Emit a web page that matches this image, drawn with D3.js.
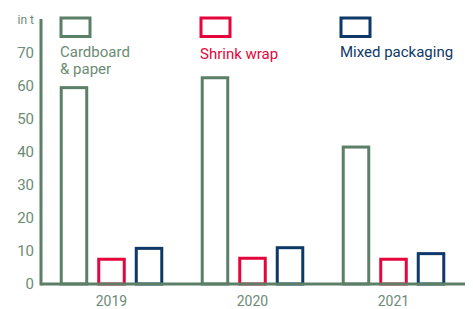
<!DOCTYPE html>
<html><head><meta charset="utf-8">
<script src="https://cdn.jsdelivr.net/npm/d3@7"></script>
<style>
html,body{margin:0;padding:0;background:#fff;}
svg{display:block;font-family:Roboto, "DejaVu Sans", sans-serif;}
</style></head>
<body><svg id="c" width="473" height="309"></svg>
<script>
const years = ["2019","2020","2021"];
const seriesNames = ["Cardboard & paper","Shrink wrap","Mixed packaging"];
const cardboard = [59.5, 62.5, 41.5];
const shrinkWrap = [7.5, 7.8, 7.5];
const mixed = [10.8, 11.0, 9.2];
const yTicks = [0,10,20,30,40,50,60,70];
const unitLabel = "in t";

const colors = ["#5b7f67", "#e4053a", "#0e3867"];
const textGreen = "#6b8b75";
const series = [cardboard, shrinkWrap, mixed];

const svg = d3.select("#c");
const x0 = d3.scaleBand().domain(years).range([41, 464]).paddingInner(0.287).paddingOuter(0.1435);
const x1 = d3.scaleBand().domain(d3.range(series.length)).range([0, x0.bandwidth()]).paddingInner(0.32).paddingOuter(0);
const y = d3.scaleLinear().domain([0, 70]).range([284, 53]);

// bars
years.forEach((yr, i) => {
  series.forEach((s, j) => {
    svg.append("rect")
      .attr("x", x0(yr) + x1(j))
      .attr("y", y(s[i]))
      .attr("width", x1.bandwidth())
      .attr("height", y(0) - y(s[i]))
      .attr("fill", "#fff")
      .attr("stroke", colors[j])
      .attr("stroke-width", 3);
  });
});

// axes lines
svg.append("line").attr("x1", 41).attr("x2", 41).attr("y1", 19).attr("y2", y(0)+1.5)
  .attr("stroke", colors[0]).attr("stroke-width", 3);
svg.append("line").attr("x1", 41).attr("x2", 465).attr("y1", y(0)).attr("y2", y(0))
  .attr("stroke", colors[0]).attr("stroke-width", 3);

// y tick labels
svg.selectAll(".yt").data(yTicks).enter().append("text")
  .attr("x", 34).attr("y", d => y(d)).attr("dy", "0.36em")
  .attr("text-anchor", "end").attr("fill", textGreen)
  .attr("font-size", 15).text(d => d);

svg.append("text").attr("x", 34).attr("y", 24).attr("text-anchor", "end")
  .attr("fill", textGreen).attr("font-size", 12).text(unitLabel);

// x labels
svg.selectAll(".xt").data(years).enter().append("text")
  .attr("x", d => x0(d) + x0.bandwidth()/2).attr("y", 306)
  .attr("text-anchor", "middle").attr("fill", textGreen)
  .attr("font-size", 14).text(d => d);

// legend
const legX = [61, 201, 341];
const legLines = [["Cardboard", "& paper"], ["Shrink wrap"], ["Mixed packaging"]];
const legY = [57, 59, 57];
seriesNames.forEach((n, j) => {
  svg.append("rect").attr("x", legX[j]).attr("y", 18).attr("width", 29).attr("height", 18.5)
    .attr("fill", "#fff").attr("stroke", colors[j]).attr("stroke-width", 3);
  const t = svg.append("text").attr("x", legX[j] - 1).attr("y", legY[j])
    .attr("fill", j === 0 ? textGreen : colors[j]).attr("font-size", 15);
  legLines[j].forEach((l, k) => {
    t.append("tspan").attr("x", legX[j] - 1).attr("dy", k === 0 ? 0 : 17).text(l);
  });
});
</script></body></html>
